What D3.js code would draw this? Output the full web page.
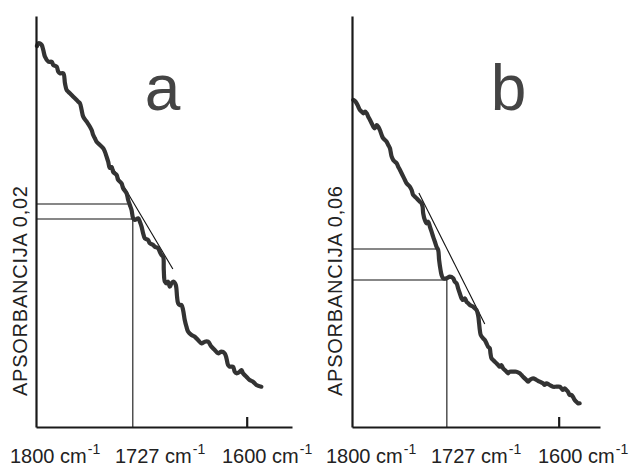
<!DOCTYPE html>
<html><head><meta charset="utf-8">
<script src="https://cdn.jsdelivr.net/npm/d3@7"></script>
<style>html,body{margin:0;padding:0;background:#fff;}svg{display:block;}</style>
</head><body>
<script>
// ---- data ----
const panelNames = ["a", "b"];
const yLabels = ["APSORBANCIJA 0,02", "APSORBANCIJA 0,06"];
const tickLabels = ["1800", "1727", "1600"];
const tickValue = 1600;
// spectra: [wavenumber cm-1, relative absorbance]
const spectrumA = [[1799.1,381],[1797.8,383.7],[1796.2,383.5],[1794.6,382],[1793.1,377],[1791.5,370.3],[1788.3,365.3],[1785.1,365.3],[1783.6,362],[1780.4,360.3],[1778.9,355.3],[1777.3,353.7],[1774.1,353.7],[1772.5,343.7],[1770.9,337],[1769.4,335.3],[1767.8,333.7],[1766.2,332],[1764.6,330.3],[1761.4,327],[1759.9,325.3],[1758.3,323.7],[1756.7,317],[1755.2,310.3],[1751.9,305.3],[1748.8,300.3],[1747.2,297],[1745.7,292],[1744.1,288.7],[1742.5,285.3],[1739.3,282],[1736.2,278.7],[1734.6,275.3],[1733.0,270.3],[1731.5,265.3],[1729.9,259],[1728.2,260],[1726.7,255],[1723.5,252],[1722.0,247],[1718.8,243.7],[1717.3,238.7],[1714.0,233.7],[1712.5,227],[1710.9,222],[1709.3,217],[1707.8,208.7],[1706.2,207],[1703.0,208.7],[1701.4,205.3],[1699.8,200.3],[1698.3,193.7],[1696.7,188.7],[1693.6,187],[1691.9,183.7],[1688.8,182],[1687.2,180.3],[1684.1,178.7],[1682.5,175.3],[1680.9,172],[1679.3,170.3],[1678.7,157],[1677.7,145.3],[1676.1,143.7],[1674.6,145.3],[1673.0,140.3],[1671.4,143.7],[1669.2,145.3],[1667.3,142],[1666.1,130.3],[1665.1,123.7],[1663.5,122],[1661.9,122],[1660.4,117],[1658.8,107],[1657.2,100.3],[1655.6,95.3],[1652.4,92],[1649.3,90.3],[1646.2,87],[1642.9,83.7],[1639.8,85.3],[1636.7,85.3],[1633.5,80.3],[1630.3,77],[1627.2,73.7],[1624.0,75.3],[1620.9,73.7],[1619.2,68.7],[1617.7,62],[1616.1,60.3],[1613.0,60.3],[1611.4,55.3],[1609.8,53.7],[1606.6,55.3],[1605.0,57],[1603.5,53.7],[1600.3,50.3],[1597.2,47],[1594.0,45.3],[1590.8,42],[1586.1,40.3]];
const spectrumB = [[1798.7,327],[1797.1,326],[1795.5,323.7],[1793.9,320.3],[1792.3,317],[1790.6,315.3],[1789.1,313.7],[1787.4,315.3],[1785.8,313.7],[1784.3,310.3],[1782.6,307],[1781.0,303.7],[1779.4,300.3],[1777.8,298.7],[1776.1,302],[1774.6,300.3],[1773.0,297],[1771.3,292],[1769.8,288.7],[1768.1,287],[1766.5,285.3],[1764.9,282],[1763.3,278.7],[1762.6,275.3],[1761.6,270.3],[1760.1,267],[1758.5,265.3],[1756.8,263.7],[1755.3,260.3],[1753.6,257],[1752.0,253.7],[1750.4,250.3],[1748.8,247],[1747.2,243.7],[1745.6,242],[1744.0,240.3],[1742.3,237],[1740.8,232],[1739.1,230.3],[1737.5,228.7],[1735.9,227],[1734.3,225.3],[1732.7,223.7],[1731.7,220.3],[1731.1,213.7],[1729.5,207],[1727.8,203.7],[1726.3,205.3],[1724.6,200.3],[1723.0,195.3],[1721.5,190.3],[1719.8,185.3],[1718.2,180.3],[1716.6,177],[1715.7,167],[1714.3,157],[1713.3,152],[1711.8,148.7],[1708.5,148.7],[1705.3,150.3],[1702.1,148.7],[1700.5,145.3],[1698.8,143.7],[1697.3,138.7],[1695.7,133.7],[1694.0,128.7],[1692.5,127],[1690.8,128.7],[1689.2,125.3],[1687.6,123.7],[1686.0,122],[1682.8,120.3],[1681.2,118.7],[1679.5,117],[1678.0,112],[1677.0,103.7],[1676.3,97],[1675.4,92],[1673.1,88.7],[1671.5,87],[1669.9,83.7],[1668.3,80.3],[1666.7,78.7],[1666.0,73.7],[1665.0,68.7],[1663.5,67],[1661.8,65.3],[1660.2,63.7],[1658.6,62],[1657.0,60.3],[1655.4,62],[1653.8,58.7],[1652.2,57],[1650.5,55.3],[1649.0,53.7],[1647.3,55.3],[1644.2,55.3],[1640.9,55.3],[1637.7,53.7],[1636.0,52],[1634.5,50.3],[1631.2,47],[1629.7,45.3],[1628.0,47],[1624.8,48.7],[1621.5,47],[1618.4,45.3],[1615.2,43.7],[1613.5,42],[1611.9,43.7],[1608.7,42],[1605.5,40.3],[1602.2,40.3],[1599.0,40.3],[1597.4,38.7],[1595.8,37],[1594.2,38.7],[1592.6,37],[1591.0,35.3],[1589.4,32],[1587.7,32],[1586.2,30.3],[1584.5,27],[1582.9,25.3],[1581.4,23.7],[1579.7,23.7]];
// marker wavenumbers / absorbance levels
const markerWave = [1708.1, 1708.2];
const upperLevelWave = [1712.8, 1717.9];
const upperLevel = [223, 178];
const lowerLevel = [208, 147];
// tangent lines [[w1,a1],[w2,a2]]
const tangents = [[[1727.0,259],[1670.1,158]], [[1735.3,234],[1671.5,103]]];
const spectra = [spectrumA, spectrumB];

// ---- layout ----
const W = 632, H = 466;
const svg = d3.select("body").append("svg").attr("width", W).attr("height", H);
svg.append("rect").attr("width", W).attr("height", H).attr("fill", "#fff");

const panels = [
  {x0: 36, x1: 292, dom: [1800, 1557], letterX: 162.5, ylabX: 27, textX: [10, 115, 222]},
  {x0: 352, x1: 600, dom: [1800, 1560], letterX: 508.5, ylabX: 342, textX: [326, 431, 538]}
];
const y = d3.scaleLinear().domain([0, 411]).range([427, 16]);
const font = "'Liberation Sans', Arial, Helvetica, sans-serif";

panels.forEach((p, i) => {
  const x = d3.scaleLinear().domain(p.dom).range([p.x0, p.x1]);
  const g = svg.append("g");

  // markers (thin lines)
  const mw = markerWave[i];
  const thinLine = (x1, y1, x2, y2) => g.append("line")
    .attr("x1", x1).attr("y1", y1).attr("x2", x2).attr("y2", y2)
    .attr("stroke", "#111").attr("stroke-width", 1.1);
  thinLine(x(mw), y(0), x(mw), y(lowerLevel[i]));
  thinLine(x(1800), y(lowerLevel[i]), x(mw), y(lowerLevel[i]));
  thinLine(x(1800), y(upperLevel[i]), x(upperLevelWave[i]), y(upperLevel[i]));
  const t = tangents[i];
  thinLine(x(t[0][0]), y(t[0][1]), x(t[1][0]), y(t[1][1]));

  // spectrum
  const line = d3.line().x(d => x(d[0])).y(d => y(d[1])).curve(d3.curveCatmullRom.alpha(0.5));
  g.append("path").datum(spectra[i]).attr("d", line)
    .attr("fill", "none").attr("stroke", "#333").attr("stroke-width", 4.2)
    .attr("stroke-linejoin", "round").attr("stroke-linecap", "round");

  // axes
  const xAxis = d3.axisBottom(x).tickValues([tickValue]).tickSizeInner(-10).tickSizeOuter(0).tickFormat("");
  const xa = g.append("g").attr("transform", `translate(0,${y(0)})`).call(xAxis);
  xa.selectAll("path,line").attr("stroke", "#1a1a1a").attr("stroke-width", 2.2);
  const yAxis = d3.axisLeft(y).tickValues([]).tickSizeOuter(0);
  const ya = g.append("g").attr("transform", `translate(${p.x0},0)`).call(yAxis);
  ya.selectAll("path").attr("stroke", "#1a1a1a").attr("stroke-width", 2.2);

  // panel letter
  g.append("text").attr("x", p.letterX).attr("y", 110).attr("text-anchor", "middle")
    .attr("font-family", font).attr("font-size", 64).attr("fill", "#444").text(panelNames[i]);

  // y label
  g.append("text").attr("transform", `translate(${p.ylabX},291) rotate(-90)`).attr("text-anchor", "middle")
    .attr("font-family", font).attr("font-size", 20).attr("fill", "#222")
    .attr("textLength", 210).attr("lengthAdjust", "spacing").text(yLabels[i]);

  // bottom labels
  tickLabels.forEach((lab, k) => {
    const tx = g.append("text").attr("x", p.textX[k]).attr("y", 463)
      .attr("font-family", font).attr("font-size", 20).attr("fill", "#222");
    tx.append("tspan").text(lab + " cm");
    tx.append("tspan").attr("font-size", 14).attr("dx", 1).attr("dy", -9).text("-1");
  });
});
</script>
</body></html>
